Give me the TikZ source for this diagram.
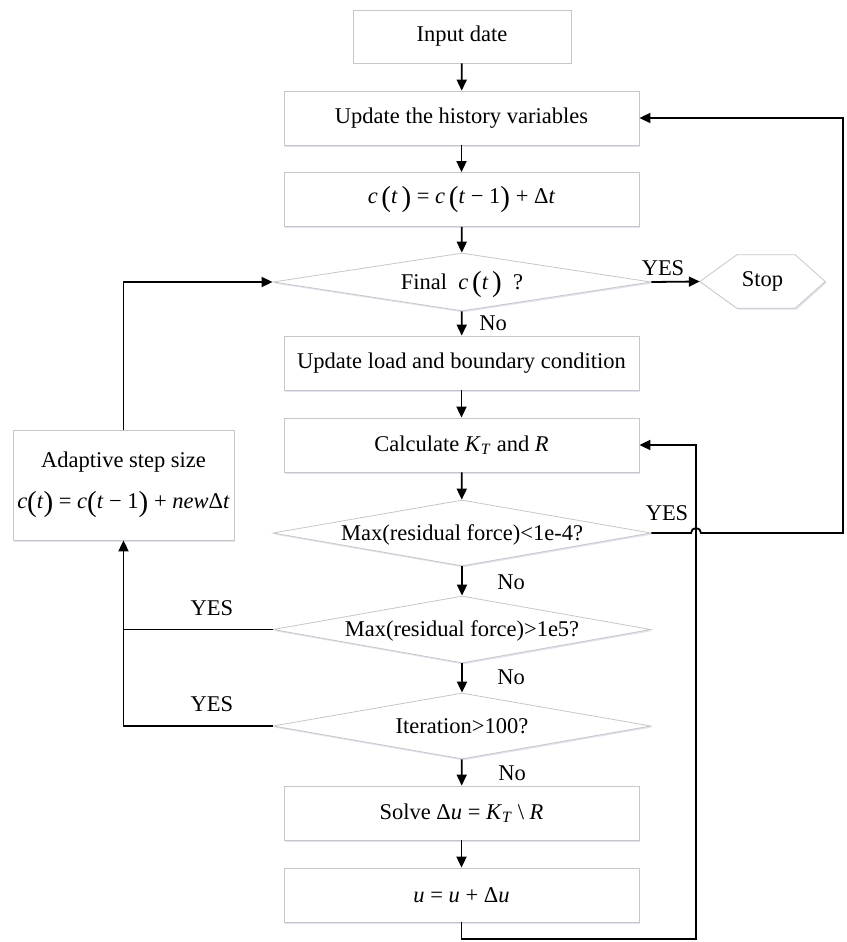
\documentclass[tikz,border=0pt]{standalone}
\usepackage{fontspec}
\setmainfont{Liberation Serif}
\usetikzlibrary{arrows.meta,shapes.geometric,shadows}
\newcommand{\mi}[1]{\textit{#1}}
\newcommand{\LPar}{\raisebox{-2.5pt}{\fontsize{29}{29}\selectfont(}}
\newcommand{\RPar}{\raisebox{-2.5pt}{\fontsize{29}{29}\selectfont)}}
\newcommand{\FlatText}[1]{\makebox[0pt]{\raisebox{-0.33em}[0pt][0pt]{#1}}}
\begin{document}
\begin{tikzpicture}[x=1pt,y=-1pt,
  font=\fontsize{22.5}{27}\selectfont,
  boxline/.style={draw=black!22, line width=0.8pt},
  shade/.style={drop shadow={shadow xshift=1.2pt, shadow yshift=-1.5pt, fill=blue!30!gray, opacity=0.18}},
  procbox/.style={boxline, shade, fill=white, rectangle, minimum width=355pt, minimum height=54pt, inner sep=0pt},
  decbox/.style={boxline, shade, fill=white, diamond, aspect=6, inner sep=0pt, minimum width=378pt},
  arr/.style={line width=1.8pt, -{Triangle[length=11pt,width=10pt]}},
  ln/.style={line width=1.8pt},
  lbl/.style={inner sep=0pt}
]
\useasboundingbox (0,0) rectangle (846,942);

\node[procbox, minimum width=218pt, minimum height=53pt] (input) at (462,36.5) {Input date};
\node[procbox] (hist) at (461.5,118) {Update the history variables};
\node[procbox] (ct) at (461.5,199.5) {\mi{c}\,\LPar\mi{t}\,\RPar\ = \mi{c}\,\LPar\mi{t} − 1\RPar\ + Δ\mi{t}};
\node[decbox, minimum height=58pt] (final) at (462,282) {\FlatText{Final \ \mi{c}\,\LPar\mi{t}\,\RPar\ \ ?}};
\node[procbox] (load) at (461.5,363) {Update load and boundary condition};
\node[procbox] (calc) at (461.5,445) {Calculate \mi{K}\textsubscript{\mi{T}} and \mi{R}};
\node[decbox, minimum height=66pt] (d1) at (462,533) {\FlatText{Max(residual force)<1e-4?}};
\node[decbox, minimum height=67pt] (d2) at (462,629.5) {\FlatText{Max(residual force)>1e5?}};
\node[decbox, minimum height=66pt] (d3) at (462,726) {\FlatText{Iteration>100?}};
\node[procbox] (solve) at (461.5,813) {Solve Δ\mi{u} = \mi{K}\textsubscript{\mi{T}} \textbackslash\ \mi{R}};
\node[procbox] (u) at (461.5,895) {\mi{u} = \mi{u} + Δ\mi{u}};
\node[procbox, minimum width=221pt, minimum height=110pt, align=center] (adapt) at (123.5,485)
  {Adaptive step size\\[14pt]\mi{c}\LPar\mi{t}\RPar{} = \mi{c}\LPar\mi{t} − 1\RPar{} + \mi{new}Δ\mi{t}};

% Stop hexagon
\node[minimum width=125pt, minimum height=53pt, inner sep=0pt] (stop) at (762.5,281.5) {};
\draw[boxline, fill=white, shade] (stop.west) -- ([xshift=37pt]stop.north west) -- ([xshift=-30pt]stop.north east)
  -- (stop.east) -- ([xshift=-30pt]stop.south east) -- ([xshift=37pt]stop.south west) -- cycle;
\node[inner sep=0pt] (stoptext) at (stop.center) {Stop};

% main chain
\draw[arr] (input) -- (hist);
\draw[arr] (hist) -- (ct);
\draw[arr] (ct) -- (final);
\draw[arr] (final) -- (load);
\draw[arr] (load) -- (calc);
\draw[arr] (calc) -- (d1);
\draw[arr] (d1) -- (d2);
\draw[arr] (d2) -- (d3);
\draw[arr] (d3) -- (solve);
\draw[arr] (solve) -- (u);

\node[lbl] (no0) at (493,323) {No};
\node[lbl] (no1) at (511,582) {No};
\node[lbl] (no2) at (511,677) {No};
\node[lbl] (no3) at (512,773) {No};

% stop
\draw[arr] (final.east) -- (stop.west);
\node[lbl] (yes0) at (663,268) {YES};

% YES loop from d1 to history
\coordinate (bumpL) at (691,533);
\coordinate (rc) at (843,533);
\draw[arr] (d1.east) -- (bumpL) arc[start angle=180, end angle=0, radius=5pt] -- (rc) |- (hist.east);
\node[lbl] (yes1) at (667,513) {YES};

% loop back from u to calc
\coordinate (lb) at (696,939);
\draw[arr] (u.south) |- (lb) |- (calc.east);

% left side
\coordinate (jn) at (123.5,629.5);
\draw[arr] (d2.west) -| (adapt.south);
\draw[ln] (d3.west) -| (jn);
\node[lbl] (yes2) at (212,608) {YES};
\node[lbl] (yes3) at (212,704) {YES};
\draw[arr] (adapt.north) |- (final.west);
\end{tikzpicture}
\end{document}
